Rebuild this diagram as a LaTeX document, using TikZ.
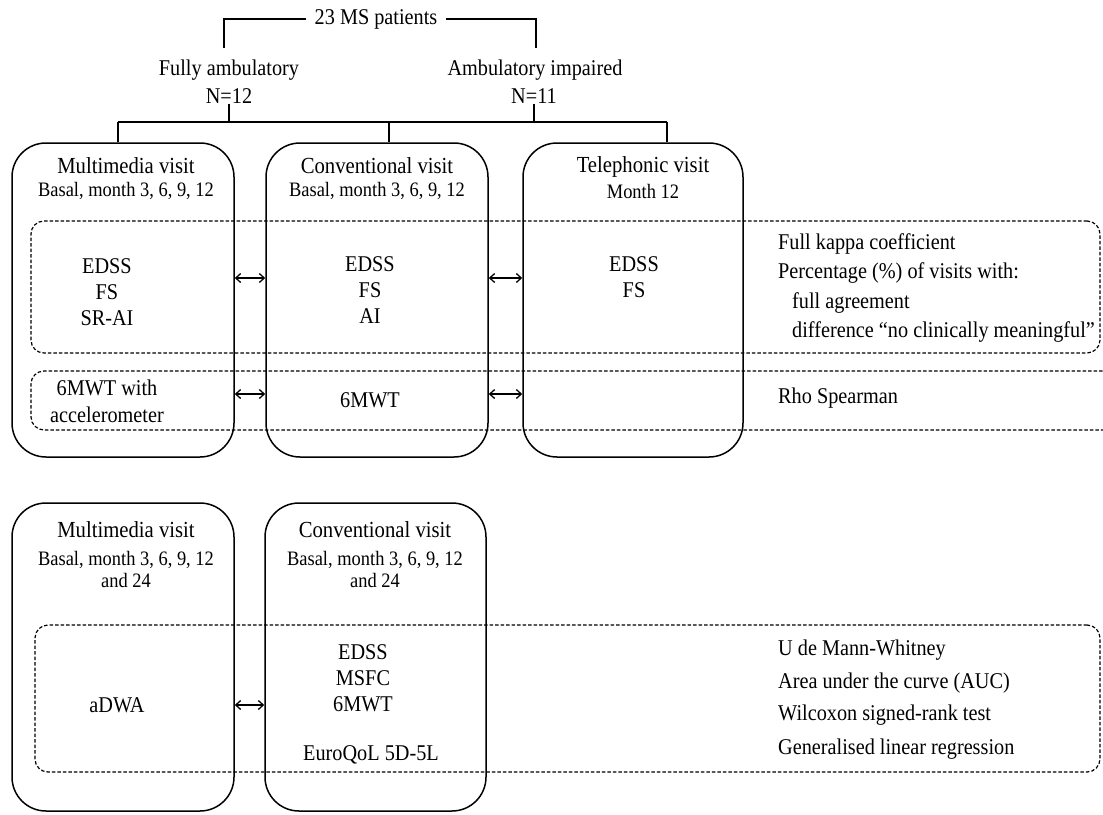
\documentclass[tikz,border=0pt]{standalone}
\usepackage{fontspec}
\setmainfont{Liberation Serif}[FakeStretch=0.9]
\usetikzlibrary{arrows.meta}
\tikzset{
  visit/.style={draw, line width=1.5pt, rounded corners=34pt},
  grp/.style={draw, line width=1.2pt, dash pattern=on 3.5pt off 2pt, rounded corners=13pt},
  ttl/.style={font=\fontsize{23}{26}\selectfont, inner sep=0pt},
  sub/.style={font=\fontsize{20.5}{22}\selectfont, align=center, inner sep=0pt},
  txt/.style={font=\fontsize{22.5}{26}\selectfont, align=center, inner sep=0pt},
  stat/.style={font=\fontsize{22.5}{26}\selectfont, anchor=west, inner sep=0pt},
  link/.style={line width=1.3pt},
  arr/.style={{Straight Barb[length=5pt,width=9pt]}-{Straight Barb[length=5pt,width=9pt]}, line width=1.3pt}
}

\begin{document}
\begin{tikzpicture}[x=1pt, y=-1pt]
    \useasboundingbox (0,0) rectangle (1103,814);

    \node[txt, inner xsep=8pt] (pat) at (376,19) {23 MS patients};
    \node[txt] (fa) at (229,70) {Fully ambulatory};
    \node[txt] (n12) at (229,96) {N=12};
    \node[txt] (ai) at (535,70) {Ambulatory impaired};
    \node[txt] (n11) at (534,96) {N=11};
    \coordinate (bl) at (224,48);
    \coordinate (br) at (536,48);
    \coordinate (hubL) at (118,122);
    \coordinate (hubM) at (389,122);
    \coordinate (hubR) at (667,122);
    \draw[link] (pat.west) -| (bl);
    \draw[link] (pat.east) -| (br);
    \draw[link] (hubL) -- (hubR);
    \draw[link] (n12.south) -- (n12.south |- hubL);
    \draw[link] (n11.south) -- (n11.south |- hubL);

    \node[visit, minimum width=222pt, minimum height=314pt] (mmA) at (123,300) {};
    \node[visit, minimum width=222pt, minimum height=314pt] (cvA) at (377,300) {};
    \node[visit, minimum width=220pt, minimum height=314pt] (tpA) at (633,300) {};
    \draw[link] (hubL) -- (hubL |- mmA.north);
    \draw[link] (hubM) -- (hubM |- cvA.north);
    \draw[link] (hubR) -- (hubR |- tpA.north);

    \node[ttl] (mmAt) at (126,166) {Multimedia visit};
    \node[sub] (mmAs) at (126,191) {Basal, month 3, 6, 9, 12};
    \node[ttl] (cvAt) at (377,166) {Conventional visit};
    \node[sub] (cvAs) at (377,191) {Basal, month 3, 6, 9, 12};
    \node[ttl] (tpAt) at (643,167) {Telephonic visit};
    \node[sub] (tpAs) at (643,191) {Month 12};

    \node[grp, minimum width=1069pt, minimum height=132pt] (gScore) at (565.5,287) {};
    \node[grp, minimum width=1090pt, minimum height=59pt] (gWalk) at (576,400.5) {};

    \node[txt] (mmAl) at (107,292) {EDSS\\FS\\SR-AI};
    \node[txt] (cvAl) at (370,290) {EDSS\\FS\\AI};
    \node[txt] (tpAl) at (634,277) {EDSS\\FS};
    \node[txt, font=\fontsize{22.5}{27}\selectfont] (mmAw) at (107,401) {6MWT with\\accelerometer};
    \node[txt] (cvAw) at (370,400) {6MWT};

    \coordinate (rowS) at (0,278);
    \coordinate (rowW) at (0,394);
    \draw[arr] (mmA.east |- rowS) -- (cvA.west |- rowS);
    \draw[arr] (cvA.east |- rowS) -- (tpA.west |- rowS);
    \draw[arr] (mmA.east |- rowW) -- (cvA.west |- rowW);
    \draw[arr] (cvA.east |- rowW) -- (tpA.west |- rowW);

    \node[stat] (kap) at (778,244) {Full kappa coefficient};
    \node[stat] (pct) at (778,273) {Percentage (\%) of visits with:};
    \node[stat] (agr) at (792,303) {full agreement};
    \node[stat] (dif) at (792,332) {difference “no clinically meaningful”};
    \node[stat] (rho) at (778,398) {Rho Spearman};

    \node[visit, minimum width=222pt, minimum height=308pt] (mmB) at (123,657) {};
    \node[visit, minimum width=221pt, minimum height=308pt] (cvB) at (375.5,657) {};
    \node[ttl] (mmBt) at (126,530) {Multimedia visit};
    \node[sub] (mmBs) at (126,569) {Basal, month 3, 6, 9, 12\\and 24};
    \node[ttl] (cvBt) at (375,530) {Conventional visit};
    \node[sub] (cvBs) at (375,569) {Basal, month 3, 6, 9, 12\\and 24};

    \node[grp, minimum width=1065pt, minimum height=147pt] (gLong) at (567.5,698.5) {};

    \node[txt] (adwa) at (117,705) {aDWA};
    \node[txt] (cvBl) at (363,678.5) {EDSS\\MSFC\\6MWT};
    \node[txt] (eq) at (371,755) {EuroQoL 5D-5L};
    \coordinate (rowL) at (0,705);
    \draw[arr] (mmB.east |- rowL) -- (cvB.west |- rowL);

    \node[stat] (mw) at (778,650) {U de Mann-Whitney};
    \node[stat] (auc) at (778,683) {Area under the curve (AUC)};
    \node[stat] (wil) at (778,715) {Wilcoxon signed-rank test};
    \node[stat] (glr) at (778,749) {Generalised linear regression};
\end{tikzpicture}
\end{document}
